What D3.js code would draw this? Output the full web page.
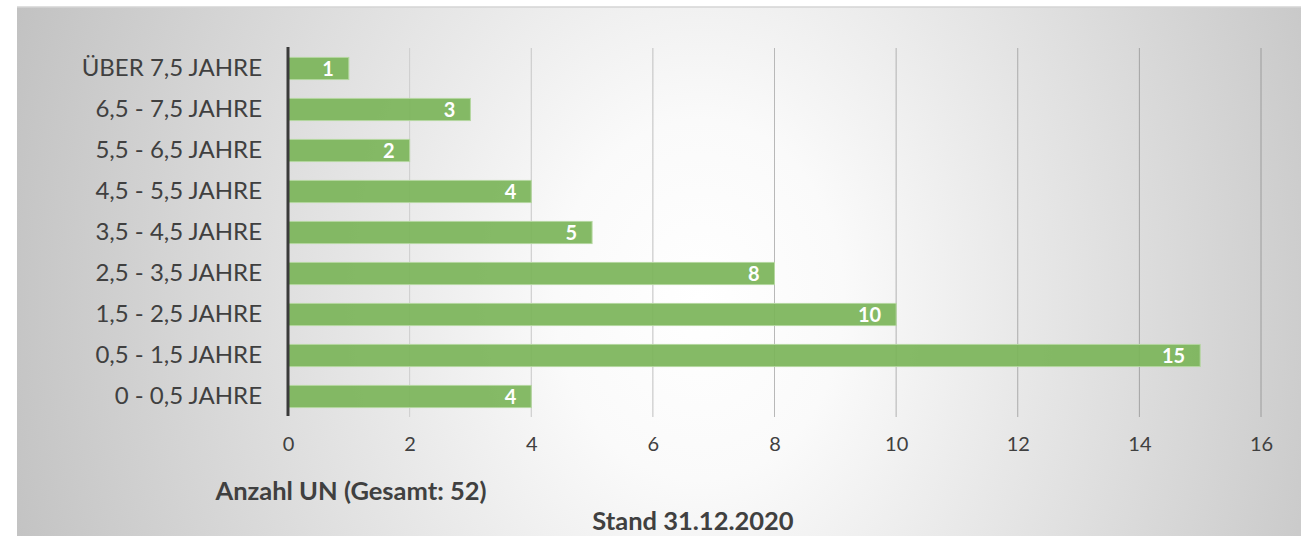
<!DOCTYPE html>
<html>
<head>
<meta charset="utf-8">
<script src="https://cdn.jsdelivr.net/npm/d3@7"></script>
<style>
  body { margin: 0; background: #ffffff; }
  svg text { font-family: Lato, "Open Sans", sans-serif; }
</style>
</head>
<body>
<div id="chart"></div>
<script>
// categories from top to bottom
let categories = ["ÜBER 7,5 JAHRE", "6,5 - 7,5 JAHRE", "5,5 - 6,5 JAHRE", "4,5 - 5,5 JAHRE",
    "3,5 - 4,5 JAHRE", "2,5 - 3,5 JAHRE", "1,5 - 2,5 JAHRE", "0,5 - 1,5 JAHRE", "0 - 0,5 JAHRE"];
let counts = [1, 3, 2, 4, 5, 8, 10, 15, 4];
let xTicks = [0, 2, 4, 6, 8, 10, 12, 14, 16];
let axisTitle = "Anzahl UN (Gesamt: 52)";
let footNote = "Stand 31.12.2020";

let width = 1301;
let height = 536;

let svg = d3.select("#chart")
    .append("svg")
    .attr("width", width)
    .attr("height", height);

/* elliptical background gradient, white band in the middle, grey at the sides */
let defs = svg.append("defs");
let grad = defs.append("radialGradient")
    .attr("id", "bg")
    .attr("gradientUnits", "userSpaceOnUse")
    .attr("cx", 0).attr("cy", 0).attr("r", 1)
    .attr("gradientTransform", "translate(700,300) scale(720,900)");
grad.append("stop").attr("offset", "0%").attr("stop-color", "#ffffff");
grad.append("stop").attr("offset", "20%").attr("stop-color", "#fafafa");
grad.append("stop").attr("offset", "45%").attr("stop-color", "#e8e8e8");
grad.append("stop").attr("offset", "100%").attr("stop-color", "#c2c2c2");

svg.append("rect")
    .attr("x", 17).attr("y", 7)
    .attr("width", width - 17).attr("height", height - 7)
    .attr("fill", "url(#bg)");
svg.append("line")
    .attr("x1", 17).attr("x2", width).attr("y1", 7).attr("y2", 7)
    .attr("stroke", "#d4d4d4").attr("stroke-width", 1.5);

/* scales */
let xScale = d3.scaleLinear()
    .domain([0, 16])
    .range([288, 1261]);

let yScale = d3.scaleBand()
    .domain(categories)
    .range([48, 417])
    .paddingInner(0.46)
    .paddingOuter(0.23);

/* gridlines get a bit darker towards the right, like in the original */
let gridColour = d3.scaleLinear()
    .domain([2, 16])
    .range(["#cdcdcd", "#9c9c9c"]);

svg.append("g")
    .selectAll("line")
    .data(xTicks.slice(1))
    .enter()
    .append("line")
    .attr("x1", d => xScale(d)).attr("x2", d => xScale(d))
    .attr("y1", 48).attr("y2", 417)
    .attr("stroke", d => gridColour(d))
    .attr("stroke-width", 1);

/* bars */
svg.append("g")
    .selectAll("rect")
    .data(counts)
    .enter()
    .append("rect")
    .attr("x", xScale(0))
    .attr("y", (d, i) => yScale(categories[i]))
    .attr("width", d => xScale(d) - xScale(0))
    .attr("height", yScale.bandwidth())
    .attr("fill", "#7cb55a")
    .attr("fill-opacity", 0.93)
    .attr("stroke", "#b5d7a0")
    .attr("stroke-width", 1);

/* value labels */
svg.append("g")
    .selectAll("text")
    .data(counts)
    .enter()
    .append("text")
    .attr("x", d => xScale(d) - 15)
    .attr("y", (d, i) => yScale(categories[i]) + yScale.bandwidth() / 2)
    .attr("dy", "0.36em")
    .attr("text-anchor", "end")
    .attr("fill", "#ffffff")
    .style("font-size", "20px")
    .style("font-weight", "bold")
    .text(d => d);

/* y axis line */
svg.append("line")
    .attr("x1", xScale(0)).attr("x2", xScale(0))
    .attr("y1", 47).attr("y2", 416)
    .attr("stroke", "#3a3a3a")
    .attr("stroke-width", 3);

/* category labels */
let yAxis = d3.axisLeft(yScale).tickSize(0).tickPadding(26);
let yAxisG = svg.append("g")
    .attr("transform", "translate(" + xScale(0) + ",0)")
    .call(yAxis);
yAxisG.select(".domain").remove();
yAxisG.selectAll("text")
    .attr("fill", "#404040")
    .style("font-size", "24px");

/* x tick labels */
let xAxis = d3.axisBottom(xScale).tickValues(xTicks).tickSize(0).tickPadding(0);
let xAxisG = svg.append("g")
    .attr("transform", "translate(0,437)")
    .call(xAxis);
xAxisG.select(".domain").remove();
xAxisG.selectAll("text")
    .attr("fill", "#404040")
    .style("font-size", "20px");

/* titles */
svg.append("text")
    .attr("x", 351).attr("y", 500)
    .attr("text-anchor", "middle")
    .attr("fill", "#404040")
    .style("font-size", "25.5px")
    .style("font-weight", "bold")
    .text(axisTitle);

svg.append("text")
    .attr("x", 693).attr("y", 530)
    .attr("text-anchor", "middle")
    .attr("fill", "#404040")
    .style("font-size", "25.5px")
    .style("font-weight", "bold")
    .text(footNote);
</script>
</body>
</html>
